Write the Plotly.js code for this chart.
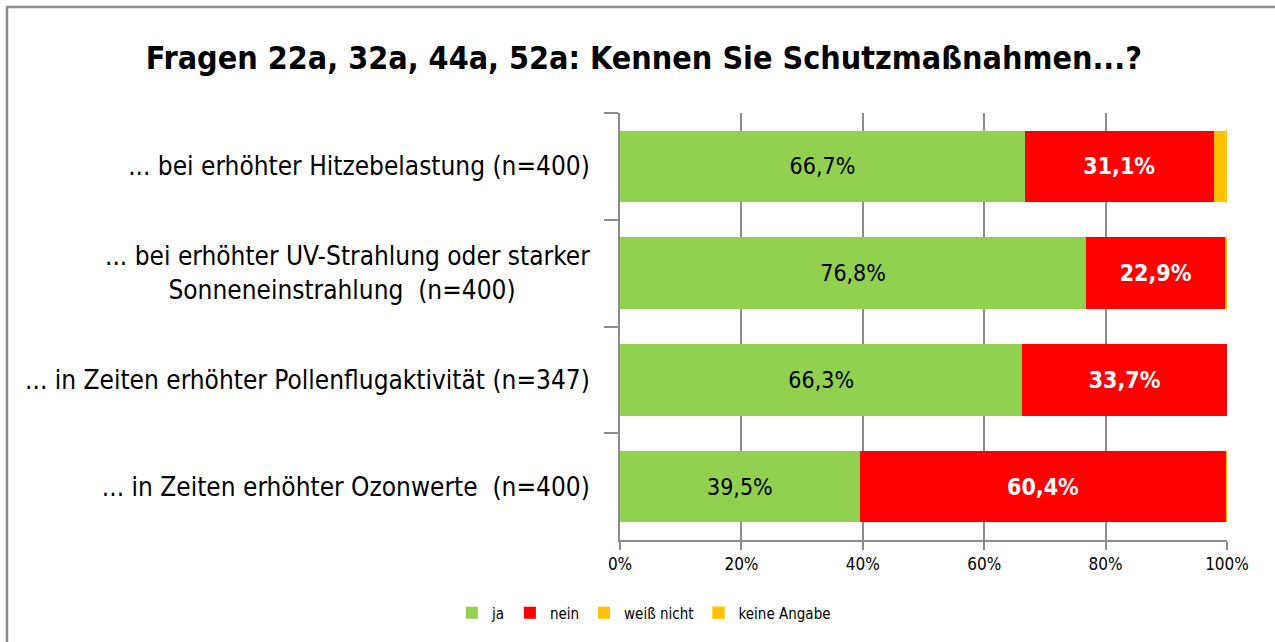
<!DOCTYPE html>
<html>
<head>
<meta charset="utf-8">
<script src="https://cdn.plot.ly/plotly-3.0.1.min.js"></script>
<style>html,body{margin:0;padding:0;background:#fff;}#chart{width:1275px;height:642px;}</style>
</head>
<body>
<div id="chart"></div>
<script>
const categories = [
  "... bei erhöhter Hitzebelastung (n=400)",
  "... bei erhöhter UV-Strahlung oder starker<br>Sonneneinstrahlung\u00a0 (n=400)\u00a0\u00a0\u00a0\u00a0\u00a0\u00a0\u00a0\u00a0\u00a0\u00a0",
  "... in Zeiten erhöhter Pollenflugaktivität (n=347)",
  "... in Zeiten erhöhter Ozonwerte\u00a0 (n=400)"
];
const ja = [66.7, 76.8, 66.3, 39.5];
const nein = [31.1, 22.9, 33.7, 60.4];
const weissNicht = [2.0, 0.3, 0.0, 0.1];
const keineAngabe = [0.2, 0.0, 0.0, 0.0];
const seriesNames = ["ja", "nein", "weiß nicht", "keine Angabe"];
const xTicks = [0, 20, 40, 60, 80, 100];

const fmt = v => v.toFixed(1).replace('.', ',') + '%';
const FONT = '"DejaVu Sans Condensed", "Liberation Sans Narrow", sans-serif';

const traces = [
  {type:'bar', orientation:'h', name:seriesNames[0], y:categories, x:ja,
   marker:{color:'#92D050'}, text:ja.map(fmt), textposition:'inside', insidetextanchor:'middle',
   textfont:{family:FONT, size:23, color:'#000'}, hoverinfo:'skip'},
  {type:'bar', orientation:'h', name:seriesNames[1], y:categories, x:nein,
   marker:{color:'#FF0000'}, text:nein.map(fmt), textposition:'inside', insidetextanchor:'middle',
   texttemplate:'<b>%{text}</b>',
   textfont:{family:FONT, size:23, color:'#fff'}, hoverinfo:'skip'},
  {type:'bar', orientation:'h', name:seriesNames[2], y:categories, x:weissNicht,
   marker:{color:'#FFC000'}, textposition:'none', hoverinfo:'skip'},
  {type:'bar', orientation:'h', name:seriesNames[3], y:categories, x:keineAngabe,
   marker:{color:'#FFC000', line:{color:'#FFD24D', width:1}}, textposition:'none', hoverinfo:'skip'}
];

const L = 620, R = 1227, T = 113, B = 540, W = 1275, H = 642;
const px = v => (v - L) / (R - L);
const py = v => (B - v) / (B - T);

const layout = {
  width: W, height: H,
  margin: {l: L, r: W - R, t: T, b: H - B, pad: 0},
  paper_bgcolor: '#fff', plot_bgcolor: '#fff',
  barmode: 'stack', bargap: 0.33,
  font: {family: FONT, color: '#000'},
  title: {text: '<b>Fragen 22a, 32a, 44a, 52a: Kennen Sie Schutzmaßnahmen...?</b>',
          font: {family: FONT, size: 32, color: '#000'},
          x: 0.505, xref: 'container', xanchor: 'center', y: 1 - 58/642, yref: 'container', yanchor: 'middle'},
  xaxis: {range: [0, 100], tickvals: xTicks, ticktext: xTicks.map(v => v + '%'),
          showgrid: true, gridcolor: '#8C8C8C', gridwidth: 2,
          showline: true, linecolor: '#8C8C8C', linewidth: 2,
          ticks: 'outside', ticklen: 8, tickwidth: 2, tickcolor: '#8C8C8C',
          tickfont: {family: FONT, size: 17, color: '#000'}, zeroline: false, fixedrange: true},
  yaxis: {autorange: 'reversed', type: 'category',
          showline: true, linecolor: '#8C8C8C', linewidth: 2,
          ticks: 'outside', tickson: 'boundaries', ticklen: 14, tickwidth: 2, tickcolor: '#8C8C8C',
          ticklabelstandoff: 23,
          tickfont: {family: FONT, size: 26, color: '#000'}, showgrid: false, fixedrange: true},
  legend: {orientation: 'h', xref: 'container', yref: 'container', x: 0.505, xanchor: 'center',
           y: 1 - 613/642, yanchor: 'middle', font: {family: FONT, size: 15, color: '#000'},
           traceorder: 'normal', itemwidth: 30},
  shapes: [
    {type: 'line', xref: 'paper', yref: 'paper', x0: px(7), x1: px(7), y0: py(H), y1: py(7),
     line: {color: '#8C8C8C', width: 2.5}},
    {type: 'line', xref: 'paper', yref: 'paper', x0: px(6), x1: px(W), y0: py(7), y1: py(7),
     line: {color: '#8C8C8C', width: 2.5}}
  ],
  showlegend: true
};

Plotly.newPlot('chart', traces, layout, {staticPlot: true, displayModeBar: false});
</script>
</body>
</html>
